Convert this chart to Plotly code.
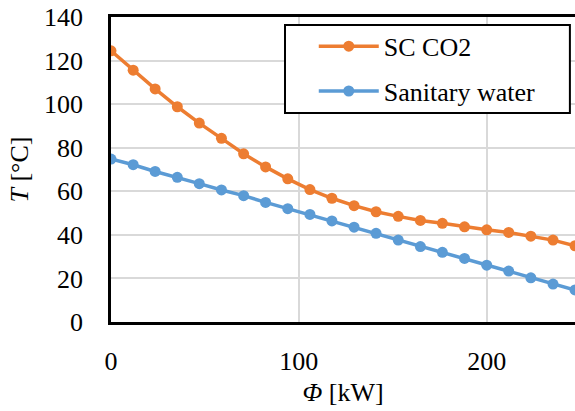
import plotly.graph_objects as go

phi = [0, 11.8, 23.5, 35.3, 47.0, 58.8, 70.6, 82.3, 94.1, 105.9, 117.6, 129.4,
       141.1, 152.9, 164.7, 176.4, 188.2, 200.0, 211.7, 223.5, 235.3, 247.0]
t_co2 = [124.5, 115.6, 107.0, 98.8, 91.3, 84.3, 77.2, 71.2, 65.7, 60.8, 56.8, 53.4,
         50.6, 48.5, 46.6, 45.3, 43.7, 42.3, 41.1, 39.4, 37.6, 35.0]
t_water = [74.8, 72.2, 69.1, 66.4, 63.5, 60.6, 58.0, 54.9, 52.0, 49.4, 46.4, 43.5,
           40.7, 37.6, 34.6, 32.0, 29.2, 26.1, 23.4, 20.3, 17.4, 14.7]
names = ["SC CO2", "Sanitary water"]
colors = ["#ED7D31", "#5B9BD5"]
y_ticks = [0, 20, 40, 60, 80, 100, 120, 140]
x_ticks = [0, 100, 200]

FONT = "Liberation Serif, Times New Roman, serif"
F = dict(family=FONT, size=26, color="black")

fig = go.Figure()
for i, (ys, name, col) in enumerate(zip([t_co2, t_water], names, colors)):
    fig.add_trace(go.Scatter(
        x=phi, y=ys, name=name, mode="lines+markers",
        line=dict(color=col, width=3.5),
        marker=dict(color=col, size=11),
        legendgroup=f"g{i}",
    ))

# legend frame
fig.add_shape(type="rect", xref="paper", yref="paper",
              x0=0.375, x1=0.989, y0=0.685, y1=0.974,
              line=dict(color="black", width=2), fillcolor="white", layer="above")

fig.update_layout(
    width=575, height=411,
    margin=dict(l=111, r=0, t=17, b=89, autoexpand=False),
    paper_bgcolor="white", plot_bgcolor="white",
    font=F,
    showlegend=True,
    legend=dict(
        x=0.437, y=0.981, xanchor="left", yanchor="top",
        bgcolor="rgba(0,0,0,0)", borderwidth=0,
        font=F, itemwidth=60,
        tracegroupgap=8,
    ),
    xaxis=dict(
        range=[0, 247], tickvals=x_ticks, ticks="", tickfont=F,
        showgrid=True, gridcolor="#D9D9D9", gridwidth=2,
        showline=True, linecolor="black", linewidth=2.5, mirror=True,
        zeroline=False, ticklabelstandoff=14, automargin=False,
        title=dict(text="<i>Φ</i> [kW]", font=F, standoff=8),
    ),
    yaxis=dict(
        range=[0, 140], tickvals=y_ticks, ticks="", tickfont=F,
        showgrid=True, gridcolor="#D9D9D9", gridwidth=2,
        showline=True, linecolor="black", linewidth=2.5, mirror=False,
        zeroline=False, ticklabelstandoff=20, automargin=False,
        title=dict(text="<i>T</i> [°C]", font=F, standoff=8),
    ),
)

fig.write_html(
    "out.html",
    config={"displayModeBar": False},
    post_script="document.body.style.margin='0';document.body.style.overflow='hidden';",
)
